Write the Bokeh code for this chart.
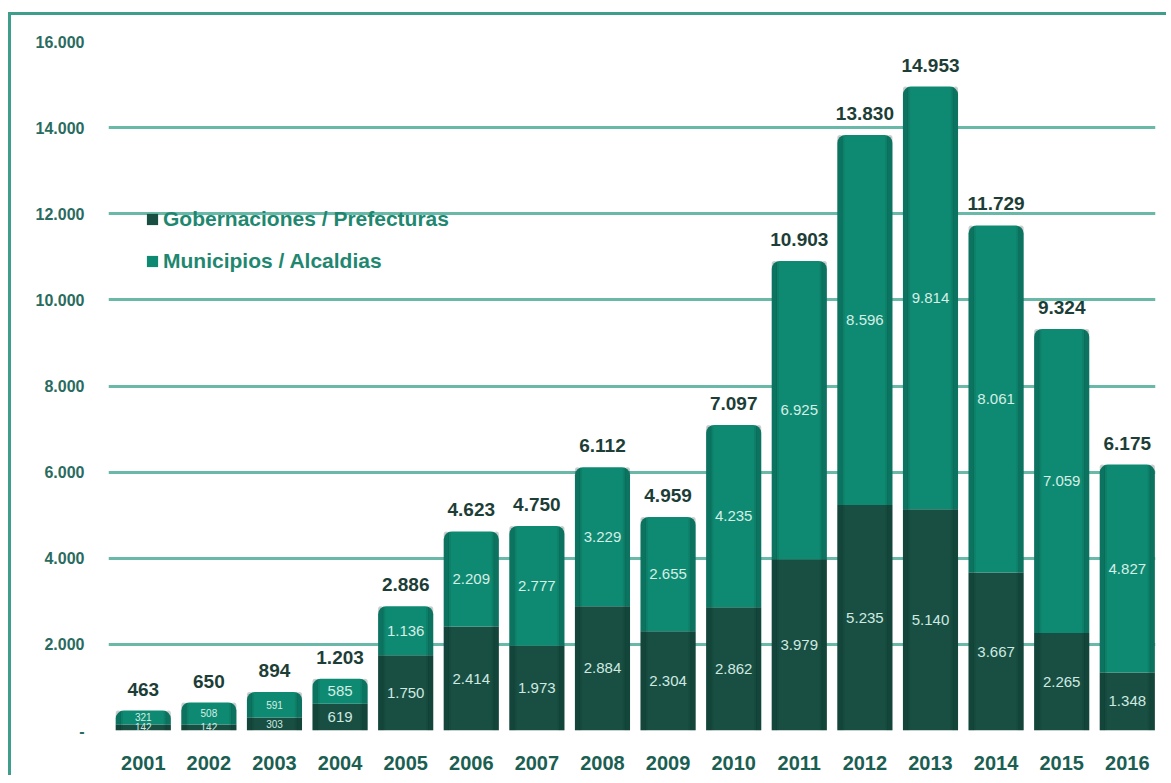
from bokeh.plotting import figure
from bokeh.models import ColumnDataSource, FixedTicker, Legend, LegendItem
from bokeh.core.properties import value
from bokeh.embed import file_html
from bokeh.resources import INLINE

years = [2001, 2002, 2003, 2004, 2005, 2006, 2007, 2008, 2009, 2010, 2011, 2012, 2013, 2014, 2015, 2016]
gobernaciones = [142, 142, 303, 619, 1750, 2414, 1973, 2884, 2304, 2862, 3979, 5235, 5140, 3667, 2265, 1348]
municipios = [321, 508, 591, 585, 1136, 2209, 2777, 3229, 2655, 4235, 6925, 8596, 9814, 8061, 7059, 4827]
totals = [463, 650, 894, 1203, 2886, 4623, 4750, 6112, 4959, 7097, 10903, 13830, 14953, 11729, 9324, 6175]
y_ticks = [0, 2000, 4000, 6000, 8000, 10000, 12000, 14000, 16000]

def fmt(v):
    return f"{v:,}".replace(",", ".")

GOB = "#184f42"
MUN = "#0f8a72"
GRID = "#6ab8a8"
FONT = "Liberation Sans"

src = ColumnDataSource(dict(
    x=years,
    gob=gobernaciones,
    mun=municipios,
    top=[g + m for g, m in zip(gobernaciones, municipios)],
    gob_mid=[g / 2 for g in gobernaciones],
    mun_mid=[g + m / 2 for g, m in zip(gobernaciones, municipios)],
    gob_lbl=[fmt(v) for v in gobernaciones],
    mun_lbl=[fmt(v) for v in municipios],
    tot=totals,
    tot_lbl=[fmt(v) for v in totals],
    fs=["10px" if v < 900 else "15px" for v in totals],
))

p = figure(width=1158, height=763, output_backend="svg", toolbar_location=None,
           x_range=(2000.47, 2016.43), y_range=(0, 16000),
           min_border_left=97, min_border_right=14, min_border_top=26, min_border_bottom=48)
p.styles = {"margin-left": "8px", "margin-top": "12px",
            "border-left": "3px solid #3f9e8b", "border-top": "3px solid #3f9e8b"}
p.outline_line_color = None
p.background_fill_color = "white"

p.xgrid.grid_line_color = None
p.ygrid.grid_line_color = GRID
p.ygrid.grid_line_width = 3
p.ygrid.ticker = FixedTicker(ticks=y_ticks)

p.yaxis.ticker = FixedTicker(ticks=y_ticks)
p.yaxis.major_label_overrides = {t: ("-" if t == 0 else fmt(t)) for t in y_ticks}
p.yaxis.axis_line_color = None
p.yaxis.major_tick_line_color = None
p.yaxis.minor_tick_line_color = None
p.yaxis.major_label_standoff = 18
p.yaxis.major_label_text_font = FONT
p.yaxis.major_label_text_font_size = "16px"
p.yaxis.major_label_text_font_style = "bold"
p.yaxis.major_label_text_color = "#2a6b5f"

p.xaxis.ticker = FixedTicker(ticks=years)
p.xaxis.axis_line_color = None
p.xaxis.major_tick_line_color = None
p.xaxis.minor_tick_line_color = None
p.xaxis.major_label_standoff = 19
p.xaxis.major_label_text_font = FONT
p.xaxis.major_label_text_font_size = "20px"
p.xaxis.major_label_text_font_style = "bold"
p.xaxis.major_label_text_color = "#1b5e52"

w = 0.84
r_gob = p.vbar(x="x", bottom=0, top="gob", width=w, source=src, fill_color=GOB, line_color=None)
r_mun = p.vbar(x="x", bottom="gob", top="top", width=w, source=src, fill_color=MUN, line_color=None,
               border_radius=[8, 8, 0, 0])
# cylinder shading: darker edges
for off, ww, a in [(-0.38, 0.08, 0.22), (-0.33, 0.04, 0.10), (0.38, 0.08, 0.22), (0.33, 0.04, 0.10)]:
    p.vbar(x=[y + off for y in years], bottom=0, top=totals, width=ww,
           fill_color="#06261f", fill_alpha=a, line_color=None, border_radius=[4, 4, 0, 0])

p.text(x="x", y="gob_mid", text="gob_lbl", source=src, text_align="center", text_baseline="middle",
       text_color="#cfe9e1", text_font_size="fs", text_font=value(FONT))
p.text(x="x", y="mun_mid", text="mun_lbl", source=src, text_align="center", text_baseline="middle",
       text_color="#d5eee6", text_font_size="fs", text_font=value(FONT))
p.text(x="x", y="tot", text="tot_lbl", source=src, text_align="center", text_baseline="bottom",
       y_offset=-15, text_color="#1d3e37", text_font_size="19px", text_font_style="bold",
       text_font=value(FONT))

legend = Legend(items=[LegendItem(label="Gobernaciones / Prefecturas", renderers=[r_gob]),
                       LegendItem(label="Municipios / Alcaldias", renderers=[r_mun])],
                location=(37, 457), orientation="vertical")
legend.background_fill_alpha = 0
legend.border_line_color = None
legend.padding = 0
legend.spacing = 18
legend.glyph_width = 14
legend.glyph_height = 14
legend.label_standoff = 4
legend.label_text_font = FONT
legend.label_text_font_size = "21px"
legend.label_text_font_style = "bold"
legend.label_text_color = "#1f8770"
p.add_layout(legend, "center")

open("out.html", "w").write(file_html(p, INLINE))
